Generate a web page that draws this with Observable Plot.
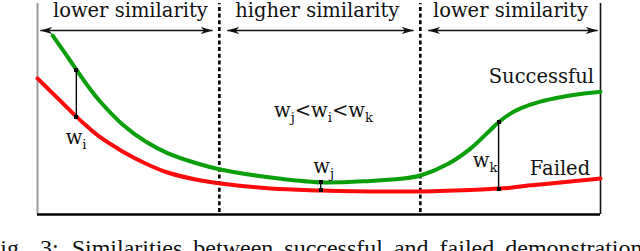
<!DOCTYPE html>
<html>
<head>
<meta charset="utf-8">
<script src="https://cdn.jsdelivr.net/npm/d3@7"></script>
<script src="https://cdn.jsdelivr.net/npm/@observablehq/plot@0.6"></script>
<style>
  html, body { margin: 0; padding: 0; background: #fff; }
  #cap { position: relative; width: 640px; height: 31px; overflow: hidden; }
  #cap div { position: absolute; left: -13px; top: 16px; white-space: nowrap;
    font-family: "Liberation Serif", serif; font-size: 24px; line-height: 24px;
    word-spacing: 5px; color: #111; }
</style>
</head>
<body>
<div id="chart"></div>
<div id="cap"><div>Fig.<span style="margin-left:4px"> </span>3:<span style="margin-left:2px"> </span>Similarities between successful and failed demonstrations.</div></div>
<script>
// ---- data ----
const xs =         [0,    0.27, 0.48, 0.69, 0.9,  1.12, 1.51, 1.92, 2.31, 2.81, 3.25, 4.14, 5.03, 5.92, 6.45, 6.8,  7.28, 7.69, 8.05, 8.19, 8.40, 8.58, 8.93, 9.29, 9.64, 10];
const successful = [null, 0.848,0.768,0.687,0.607,0.533,0.427,0.346,0.291,0.244,0.213,0.175,0.152,0.159,0.169,0.185,0.238,0.312,0.402,0.437,0.478,0.503,0.535,0.556,0.571,0.582];
const failed =     [0.645,0.574,0.519,0.464,0.413,0.365,0.299,0.242,0.199,0.166,0.147,0.123,0.114,0.109,0.109,0.109,0.112,0.116,0.121,0.123,0.127,0.133,0.142,0.152,0.161,0.171];
const regionEdges = [0, 3.23, 6.8, 10];
const regionLabels = ["lower similarity", "higher similarity", "lower similarity"];
const gapAt = [0.69, 5.03, 8.19];          // x positions of the w_i, w_j, w_k gaps
const gapNames = ["w_i", "w_j", "w_k"];

// annotation placement
const regionLabelX = [1.65, 4.97, 8.40];
const centeredNotes = [
  {text: "Successful", x: 8.95, y: 0.621},
  {text: "Failed", x: 9.28, y: 0.185},
  {text: "w_j<w_i<w_k", x: 5.08, y: 0.464}
];
const gapLabelPos = [
  {x: 0.50, y: 0.332},
  {x: 4.90, y: 0.199},
  {x: 7.73, y: 0.223}
];

// ---- derived tables ----
const succData = xs.map((x, i) => ({x, y: successful[i]})).filter(d => d.y != null);
const failData = xs.map((x, i) => ({x, y: failed[i]}));
const gaps = gapAt.map((x, k) => {
  const i = xs.indexOf(x);
  return {x, y1: failed[i], y2: successful[i], name: gapNames[k]};
});
const gapLabels = gapNames.map((text, k) => ({text, ...gapLabelPos[k]}));
const regions = regionLabels.map((label, i) => {
  const a = regionEdges[i], b = regionEdges[i + 1];
  return {
    label, lx: regionLabelX[i],
    x1: a + (i === 0 ? 0.05 : 0.14),
    x2: b - (i === regionLabels.length - 1 ? 0.05 : 0.12)
  };
});

const SVGNS = "http://www.w3.org/2000/svg";
function stealth(color, context) {
  const doc = context.document;
  const m = doc.createElementNS(SVGNS, "marker");
  m.setAttribute("viewBox", "0 -5 12 10");
  m.setAttribute("refX", "12");
  m.setAttribute("refY", "0");
  m.setAttribute("markerWidth", "12");
  m.setAttribute("markerHeight", "10");
  m.setAttribute("markerUnits", "userSpaceOnUse");
  m.setAttribute("orient", "auto-start-reverse");
  const p = doc.createElementNS(SVGNS, "path");
  p.setAttribute("d", "M0,-3.6L12,0L0,3.6L3.5,0Z");
  p.setAttribute("fill", color);
  p.setAttribute("stroke", "none");
  m.appendChild(p);
  return m;
}
function square(color, context) {
  const doc = context.document;
  const m = doc.createElementNS(SVGNS, "marker");
  m.setAttribute("viewBox", "-2 -2 4 4");
  m.setAttribute("markerWidth", "4");
  m.setAttribute("markerHeight", "4");
  m.setAttribute("markerUnits", "userSpaceOnUse");
  const r = doc.createElementNS(SVGNS, "rect");
  r.setAttribute("x", "-2"); r.setAttribute("y", "-2");
  r.setAttribute("width", "4"); r.setAttribute("height", "4");
  r.setAttribute("fill", color);
  m.appendChild(r);
  return m;
}

const arrowY = 0.872, regionLabelY = 0.934;

const svg = Plot.plot({
  width: 640,
  height: 220,
  marginLeft: 37,
  marginRight: 40,
  marginTop: 3,
  marginBottom: 6,
  x: {domain: [0, 10], axis: null},
  y: {domain: [0, 1], axis: null},
  style: {fontFamily: "'DejaVu Serif', serif", fontSize: "19.5px", background: "white", color: "#111", overflow: "visible"},
  marks: [
    Plot.ruleX([0], {y1: 0, y2: 1, stroke: "#9a9a9a", strokeWidth: 2}),
    Plot.ruleX([10], {y1: 0, y2: 1, stroke: "#111", strokeWidth: 1.6}),
    Plot.ruleX(regionEdges.slice(1, -1), {y1: 0.01, y2: 1, stroke: "#000", strokeWidth: 2.6, strokeDasharray: "4,2.7"}),
    Plot.link(regions, {x1: "x1", x2: "x2", y1: arrowY, y2: arrowY, stroke: "#111", strokeWidth: 1.4, markerStart: stealth, markerEnd: stealth}),
    Plot.text(regions, {x: "lx", y: regionLabelY, text: "label", lineAnchor: "bottom", fill: "#111"}),
    Plot.line(failData, {x: "x", y: "y", stroke: "#ff0a0a", strokeWidth: 4, curve: "catmull-rom"}),
    Plot.line(succData, {x: "x", y: "y", stroke: "#0a9e0a", strokeWidth: 4, curve: "catmull-rom"}),
    Plot.link(gaps, {x1: "x", x2: "x", y1: "y1", y2: "y2", stroke: "#000", strokeWidth: 1.4, markerStart: square, markerEnd: square}),
    Plot.ruleY([0], {x1: 0, x2: 10, stroke: "#000", strokeWidth: 2.6}),
    Plot.text(centeredNotes, {x: "x", y: "y", text: "text", textAnchor: "middle", lineAnchor: "bottom", fill: "#111"}),
    Plot.text(gapLabels, {x: "x", y: "y", text: "text", textAnchor: "start", lineAnchor: "bottom", fill: "#111"})
  ]
});

// subscripts: "w_j" -> w with subscript j
svg.querySelectorAll("text").forEach(t => {
  const s = t.textContent;
  if (!s.includes("_")) return;
  const parts = s.split(/_(.)/);
  t.textContent = "";
  parts.forEach((p, i) => {
    if (!p) return;
    const ts = document.createElementNS(SVGNS, "tspan");
    ts.textContent = p;
    if (i % 2) { ts.setAttribute("font-size", "0.68em"); ts.setAttribute("dy", "5"); }
    else if (i > 0) ts.setAttribute("dy", "-5");
    t.appendChild(ts);
  });
});

document.getElementById("chart").appendChild(svg);
</script>
</body>
</html>
